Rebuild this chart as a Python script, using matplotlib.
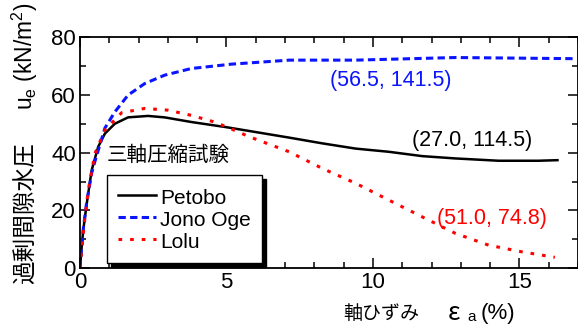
import matplotlib
matplotlib.use('Agg')
import matplotlib.pyplot as plt
from matplotlib.ticker import MultipleLocator

plt.rcParams['font.family'] = ['Liberation Sans', 'Noto Sans CJK JP', 'DejaVu Sans']
plt.rcParams['mathtext.fontset'] = 'custom'
plt.rcParams['mathtext.rm'] = 'Liberation Sans'
plt.rcParams['mathtext.it'] = 'Liberation Sans'

# values (axial strain %, excess pore pressure)
petobo_x = [0, 0.05, 0.11, 0.23, 0.40, 0.62, 0.85, 1.19, 1.64, 2.32, 2.89, 3.80, 5.0,
            7.14, 8.28, 9.41, 10.54, 11.68, 12.81, 14.29, 15.65, 16.3]
petobo_y = [0, 6.5, 13.2, 22.4, 34, 42, 46.6, 50, 52.2, 52.7, 52.2, 50.6, 48.8,
            45.2, 43.2, 41.4, 40.3, 38.8, 38.0, 37.2, 37.2, 37.4]

jono_x = [0, 0.05, 0.11, 0.23, 0.40, 0.51, 0.85, 1.19, 1.64, 2.21, 2.89, 3.80, 5.16,
          7.14, 9.41, 12.81, 16.9]
jono_y = [0, 6.5, 13.5, 23, 33, 37, 48.5, 54.1, 59.9, 63.9, 66.8, 69.1, 70.6,
          72.0, 72.0, 72.9, 72.5]

lolu_x = [0, 0.04, 0.08, 0.17, 0.3, 0.51, 0.85, 1.42, 2.21, 3.0, 3.80, 4.59, 5.05,
          5.78, 7.14, 8.28, 9.41, 10.54, 11.68, 12.81, 13.95, 15.08, 16.21]
lolu_y = [0, 4.5, 9, 17.8, 28, 39.7, 47.8, 53.8, 55.3, 54.7, 52.9, 50.6, 48.7,
          45.5, 40.3, 34.5, 29.4, 23.6, 17.8, 12.1, 8.0, 5.7, 3.8]

labels = ["Petobo", "Jono Oge", "Lolu"]
notes = ["(27.0, 114.5)", "(56.5, 141.5)", "(51.0, 74.8)"]
note_pos = [(13.38, 44.3), (10.6, 65.0), (14.06, 17.3)]

fig = plt.figure(figsize=(5.78, 3.29), dpi=100)
ax = fig.add_axes([80 / 578, 1 - 268.3 / 329, 498 / 578, 231.3 / 329])

ax.plot(petobo_x, petobo_y, color='black', lw=1.8, label=labels[0])
ax.plot(jono_x, jono_y, color='#0a14ff', lw=2.2, ls=(0, (2.4, 1.4)), label=labels[1])
ax.plot(lolu_x, lolu_y, color='#ff0000', lw=2.2, ls=(0, (1.2, 2.6)), label=labels[2])

cols = ['black', '#0a14ff', '#ff0000']
for txt, (nx, ny), c in zip(notes, note_pos, cols):
    ax.text(nx, ny, txt, color=c, fontsize=15.5, ha='center', va='center')

ax.text(0.92, 39.3, "三軸圧縮試験", fontsize=14.8, ha='left', va='center',
        family=['Noto Sans CJK JP', 'DejaVu Sans'])

ax.set_xlim(0, 17)
ax.set_ylim(0, 80)
ax.xaxis.set_major_locator(MultipleLocator(5))
ax.xaxis.set_minor_locator(MultipleLocator(1))
ax.yaxis.set_major_locator(MultipleLocator(20))
ax.yaxis.set_minor_locator(MultipleLocator(10))
ax.tick_params(which='both', direction='in', top=True, right=True, width=1.1)
ax.tick_params(which='major', length=7, labelsize=16, pad=3)
ax.tick_params(which='minor', length=4.3)
for s in ax.spines.values():
    s.set_linewidth(1.3)

leg = ax.legend(loc='lower left', bbox_to_anchor=(0.054, 0.023), borderaxespad=0,
                fontsize=15, fancybox=False, edgecolor='black', framealpha=1,
                handlelength=1.8, handleheight=1.2, handletextpad=0.2,
                labelspacing=0.0, borderpad=0.55,
                shadow={'ox': 3, 'oy': -3, 'facecolor': 'black', 'edgecolor': 'black', 'alpha': 1})
leg.get_frame().set_linewidth(1.0)

# y label: japanese part + symbol part
fig.text(26 / 578, 1 - 284 / 329, "過剰間隙水圧", rotation=90, ha='center', va='bottom',
         fontsize=17, family=['Noto Sans CJK JP', 'DejaVu Sans'])
fig.text(25 / 578, 1 - 110 / 329, r"u$_{\rm e}$ (kN/m$^{2}$)", rotation=90,
         ha='center', va='bottom', fontsize=16.4)

# x label
fig.text(343 / 578, 1 - 313.5 / 329, "軸ひずみ", ha='left', va='center', fontsize=13.7,
         family=['Noto Sans CJK JP', 'DejaVu Sans'])
fig.text(448 / 578, 1 - 313 / 329, "ε", ha='left', va='center', fontsize=18,
         family=['Noto Sans CJK JP', 'DejaVu Sans'])
fig.text(467 / 578, 1 - 317 / 329, "a", ha='left', va='center', fontsize=11)
fig.text(481 / 578, 1 - 313.5 / 329, "(%)", ha='left', va='center', fontsize=16)

fig.savefig('out.png', dpi=100)
